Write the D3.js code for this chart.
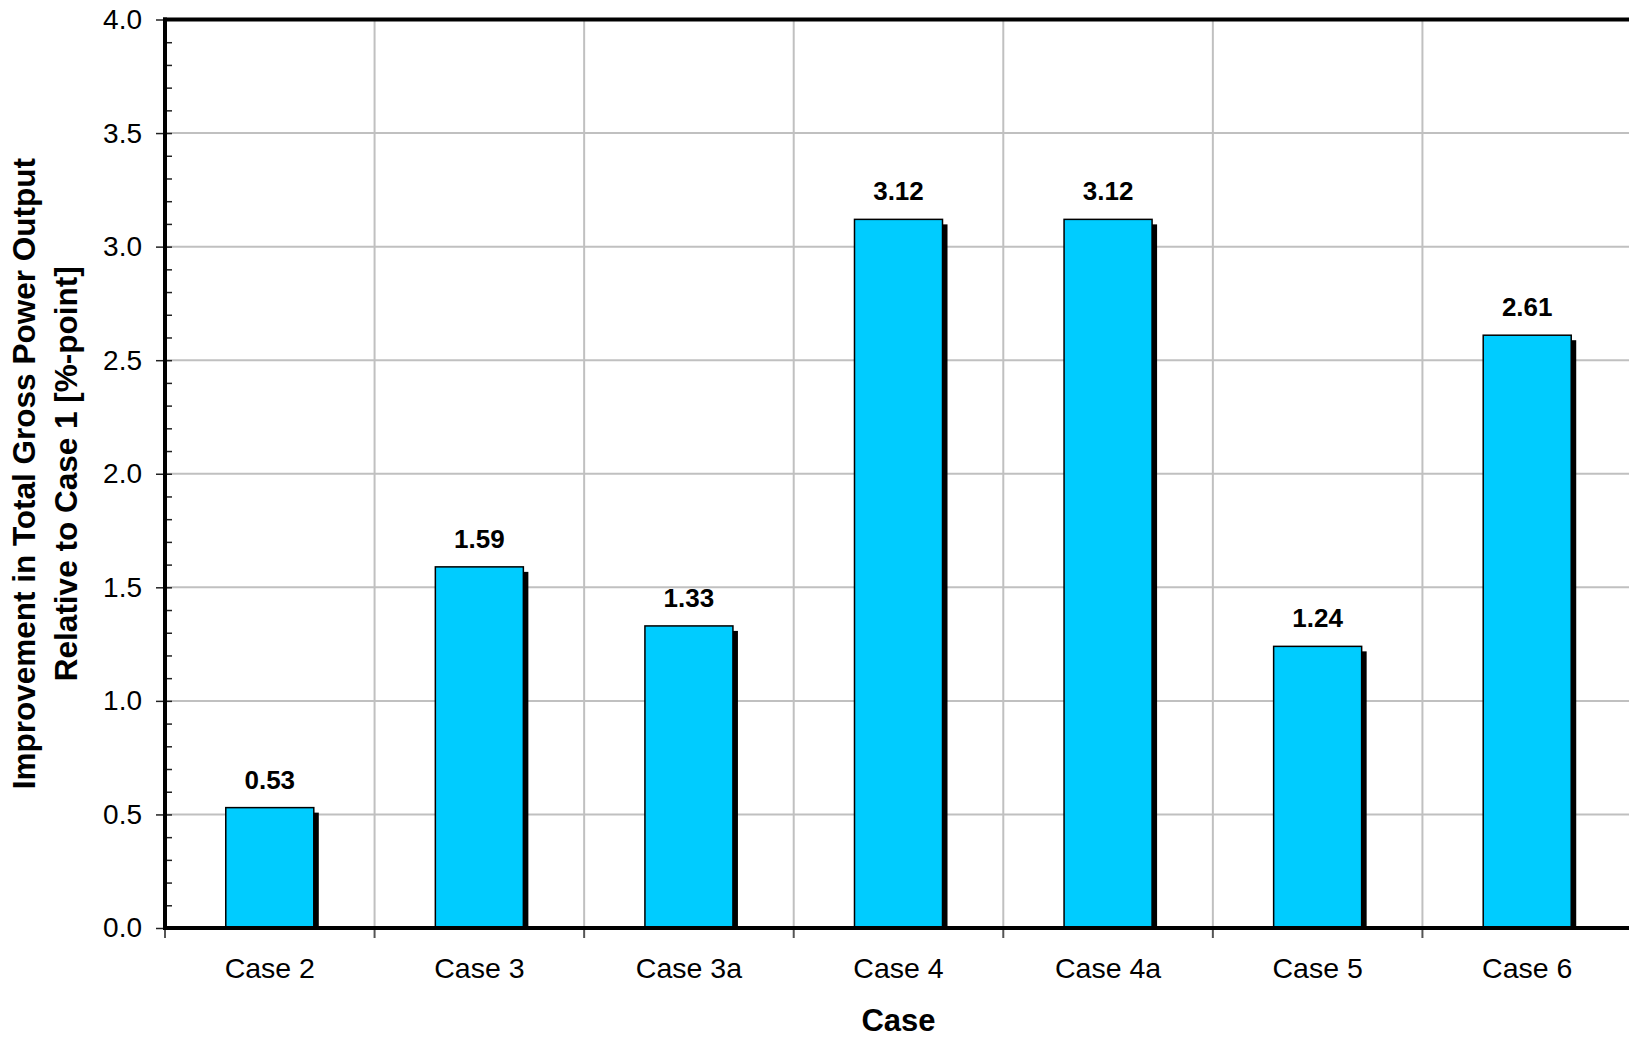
<!DOCTYPE html>
<html>
<head>
<meta charset="utf-8">
<script src="https://cdn.jsdelivr.net/npm/d3@7"></script>
<style>
  html, body { margin: 0; padding: 0; background: #fff; }
  svg { display: block; }
  text { font-family: "Liberation Sans", Arial, Helvetica, sans-serif; fill: #000; }
</style>
</head>
<body>
<svg id="chart" width="1629" height="1037"></svg>
<script>
const categories = ["Case 2", "Case 3", "Case 3a", "Case 4", "Case 4a", "Case 5", "Case 6"];
const values = [0.53, 1.59, 1.33, 3.12, 3.12, 1.24, 2.61];
const yTickValues = [0.0, 0.5, 1.0, 1.5, 2.0, 2.5, 3.0, 3.5, 4.0];
const yMinorTickValues = d3.range(0, 41).map(i => i / 10);
const yTitleLines = ["Improvement in Total Gross Power Output", "Relative to Case 1 [%-point]"];
const xTitle = "Case";

(function () {
const svg = d3.select("#chart");
const pL = 165, pR = 1632, pT = 19.5, pB = 928;

const x = d3.scaleBand().domain(categories).range([pL, pR]).paddingInner(0).paddingOuter(0);
const y = d3.scaleLinear().domain([0, 4]).range([pB, pT]);
const bw = x.bandwidth();
const barW = bw * 0.42;

// gridlines
const grid = svg.append("g");
grid.selectAll("line.h").data(yTickValues.filter(v => v > 0 && v < 4)).join("line")
  .attr("class", "h")
  .attr("x1", pL).attr("x2", pR)
  .attr("y1", d => y(d)).attr("y2", d => y(d))
  .attr("stroke", "#c0c0c0").attr("stroke-width", 2);
grid.selectAll("line.v").data(categories.slice(1)).join("line")
  .attr("class", "v")
  .attr("x1", d => x(d)).attr("x2", d => x(d))
  .attr("y1", pT).attr("y2", pB)
  .attr("stroke", "#c0c0c0").attr("stroke-width", 2);

// shadows
svg.append("g").selectAll("rect").data(categories).join("rect")
  .attr("x", d => x(d) + (bw - barW) / 2 + 5)
  .attr("y", (d, i) => y(values[i]) + 5)
  .attr("width", barW)
  .attr("height", (d, i) => Math.max(0, pB - y(values[i]) - 5))
  .attr("fill", "#000");

// bars
svg.append("g").selectAll("rect").data(categories).join("rect")
  .attr("x", d => x(d) + (bw - barW) / 2)
  .attr("y", (d, i) => y(values[i]))
  .attr("width", barW)
  .attr("height", (d, i) => pB - y(values[i]))
  .attr("fill", "#00ccff")
  .attr("stroke", "#000").attr("stroke-width", 1.5);

// value labels
svg.append("g").selectAll("text").data(categories).join("text")
  .attr("x", d => x(d) + bw / 2)
  .attr("y", (d, i) => y(values[i]) - 19)
  .attr("text-anchor", "middle")
  .attr("font-size", 26).attr("font-weight", "bold")
  .text((d, i) => values[i].toFixed(2));

// y axis major ticks + labels
const yAxis = d3.axisLeft(y).tickValues(yTickValues).tickFormat(d3.format(".1f")).tickSize(9).tickPadding(14);
const gy = svg.append("g").attr("transform", `translate(${pL},0)`).call(yAxis);
gy.select(".domain").remove();
gy.selectAll(".tick line").attr("stroke", "#222").attr("stroke-width", 1.5);
gy.selectAll(".tick text").attr("font-size", 28).attr("font-family", "Liberation Sans, Arial, sans-serif").attr("fill", "#000");

// y minor ticks (inside)
const yMinor = d3.axisRight(y).tickValues(yMinorTickValues).tickSize(7).tickFormat("");
const gym = svg.append("g").attr("transform", `translate(${pL},0)`).call(yMinor);
gym.select(".domain").remove();
gym.selectAll(".tick line").attr("stroke", "#222").attr("stroke-width", 1.5);

// x axis labels
const xAxis = d3.axisBottom(x).tickSize(0).tickPadding(30);
const gx = svg.append("g").attr("transform", `translate(0,${pB})`).call(xAxis);
gx.select(".domain").remove();
gx.selectAll(".tick text").attr("font-size", 28.5).attr("font-family", "Liberation Sans, Arial, sans-serif").attr("fill", "#000");

// x boundary ticks
svg.append("g").selectAll("line").data(categories).join("line")
  .attr("x1", d => x(d)).attr("x2", d => x(d))
  .attr("y1", pB).attr("y2", pB + 10)
  .attr("stroke", "#555").attr("stroke-width", 2);

// frame / axis lines
svg.append("line").attr("x1", pL - 2).attr("x2", pR + 2).attr("y1", pT).attr("y2", pT)
  .attr("stroke", "#000").attr("stroke-width", 4);
svg.append("line").attr("x1", pR).attr("x2", pR).attr("y1", pT).attr("y2", pB)
  .attr("stroke", "#000").attr("stroke-width", 4);
svg.append("line").attr("x1", pL).attr("x2", pL).attr("y1", pT - 2).attr("y2", pB + 2)
  .attr("stroke", "#000").attr("stroke-width", 4);
svg.append("line").attr("x1", pL - 2).attr("x2", pR + 2).attr("y1", pB).attr("y2", pB)
  .attr("stroke", "#000").attr("stroke-width", 4);

// x title
svg.append("text").attr("x", (pL + pR) / 2).attr("y", 1031)
  .attr("text-anchor", "middle").attr("font-size", 31).attr("font-weight", "bold")
  .text(xTitle);

// y title
const yc = (pT + pB) / 2;
const yt = svg.append("text").attr("transform", `translate(0,${yc}) rotate(-90)`)
  .attr("text-anchor", "middle").attr("font-size", 31.5).attr("font-weight", "bold");
yt.selectAll("tspan").data(yTitleLines).join("tspan")
  .attr("x", 0).attr("y", (d, i) => i === 0 ? 35 : 77)
  .text(d => d);
})();
</script>
</body>
</html>
